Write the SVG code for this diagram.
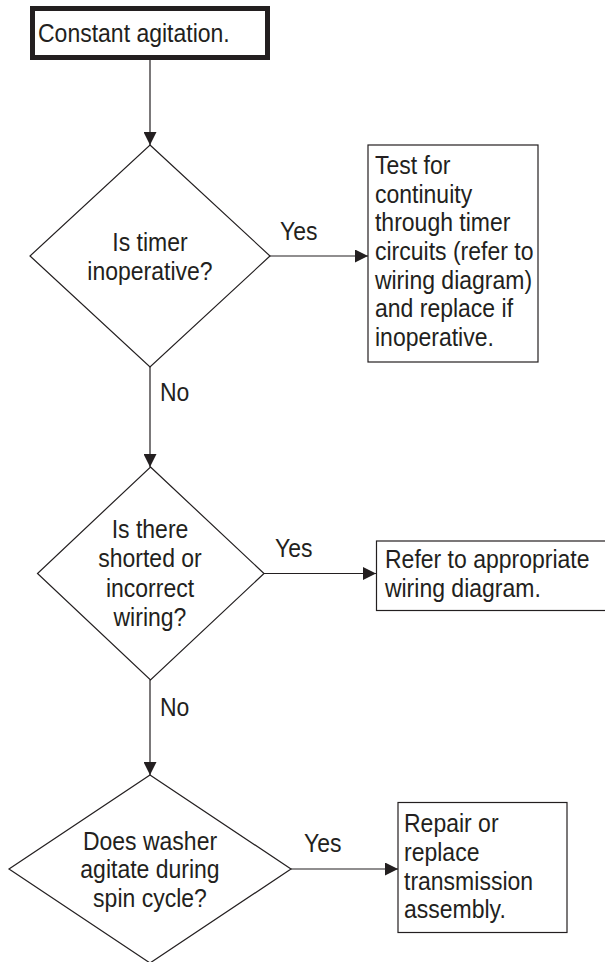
<svg xmlns="http://www.w3.org/2000/svg" width="605" height="962" viewBox="0 0 605 962">
<style>
text{font-family:"Liberation Sans",Arial,sans-serif;font-size:25px;fill:#231f20;transform-box:fill-box;transform-origin:left center;transform:scaleX(0.92)}
text.c{text-anchor:middle;transform-origin:center center}
.shape{fill:#fff;stroke:#231f20;stroke-width:1.2}
.edge{fill:none;stroke:#231f20;stroke-width:1.2}
</style>
<defs>
<marker id="arr" markerUnits="userSpaceOnUse" markerWidth="13" markerHeight="13" refX="13" refY="6.5" orient="auto">
<path d="M0,0 L13,6.5 L0,13 z" fill="#231f20"/>
</marker>
</defs>
<rect width="605" height="962" fill="#fff"/>
<g id="connectors">
<line class="edge" x1="150" y1="60" x2="150" y2="145" marker-end="url(#arr)"/>
<line class="edge" x1="270" y1="256" x2="368" y2="256" marker-end="url(#arr)"/>
<line class="edge" x1="150" y1="367" x2="150" y2="467" marker-end="url(#arr)"/>
<line class="edge" x1="264" y1="573.5" x2="376" y2="573.5" marker-end="url(#arr)"/>
<line class="edge" x1="150" y1="680" x2="150" y2="775" marker-end="url(#arr)"/>
<line class="edge" x1="291" y1="869" x2="398" y2="869" marker-end="url(#arr)"/>
<text x="280" y="240">Yes</text>
<text x="160" y="401">No</text>
<text x="275" y="557">Yes</text>
<text x="160" y="716">No</text>
<text x="304" y="852">Yes</text>
</g>
<g id="start">
<rect x="32.5" y="8.5" width="235" height="49" fill="#fff" stroke="#231f20" stroke-width="5"/>
<text x="38" y="42">Constant agitation.</text>
</g>
<g id="d1">
<polygon class="shape" points="150,145 270,256 150,367 30,256"/>
<text class="c" x="150" y="251">Is timer</text>
<text class="c" x="150" y="280">inoperative?</text>
</g>
<g id="b1">
<rect class="shape" x="368" y="145" width="170" height="217"/>
<text x="375" y="174">Test for</text>
<text x="375" y="202.7">continuity</text>
<text x="375" y="231.4">through timer</text>
<text x="375" y="260">circuits (refer to</text>
<text x="375" y="288.8">wiring diagram)</text>
<text x="375" y="317.5">and replace if</text>
<text x="375" y="346.2">inoperative.</text>
</g>
<g id="d2">
<polygon class="shape" points="150.5,467 264,573.5 150.5,680 37.5,573.5"/>
<text class="c" x="150" y="538">Is there</text>
<text class="c" x="150" y="567.5">shorted or</text>
<text class="c" x="150" y="597">incorrect</text>
<text class="c" x="150" y="626">wiring?</text>
</g>
<g id="b2">
<rect class="shape" x="376.5" y="541" width="240" height="69.5"/>
<text x="385" y="568">Refer to appropriate</text>
<text x="385" y="597">wiring diagram.</text>
</g>
<g id="d3">
<polygon class="shape" points="150,775 291,869 150,963 9,869"/>
<text class="c" x="150" y="850">Does washer</text>
<text class="c" x="150" y="878">agitate during</text>
<text class="c" x="150" y="907">spin cycle?</text>
</g>
<g id="b3">
<rect class="shape" x="398" y="802.5" width="169" height="130"/>
<text x="404" y="832">Repair or</text>
<text x="404" y="861">replace</text>
<text x="404" y="890">transmission</text>
<text x="404" y="918">assembly.</text>
</g>
</svg>
